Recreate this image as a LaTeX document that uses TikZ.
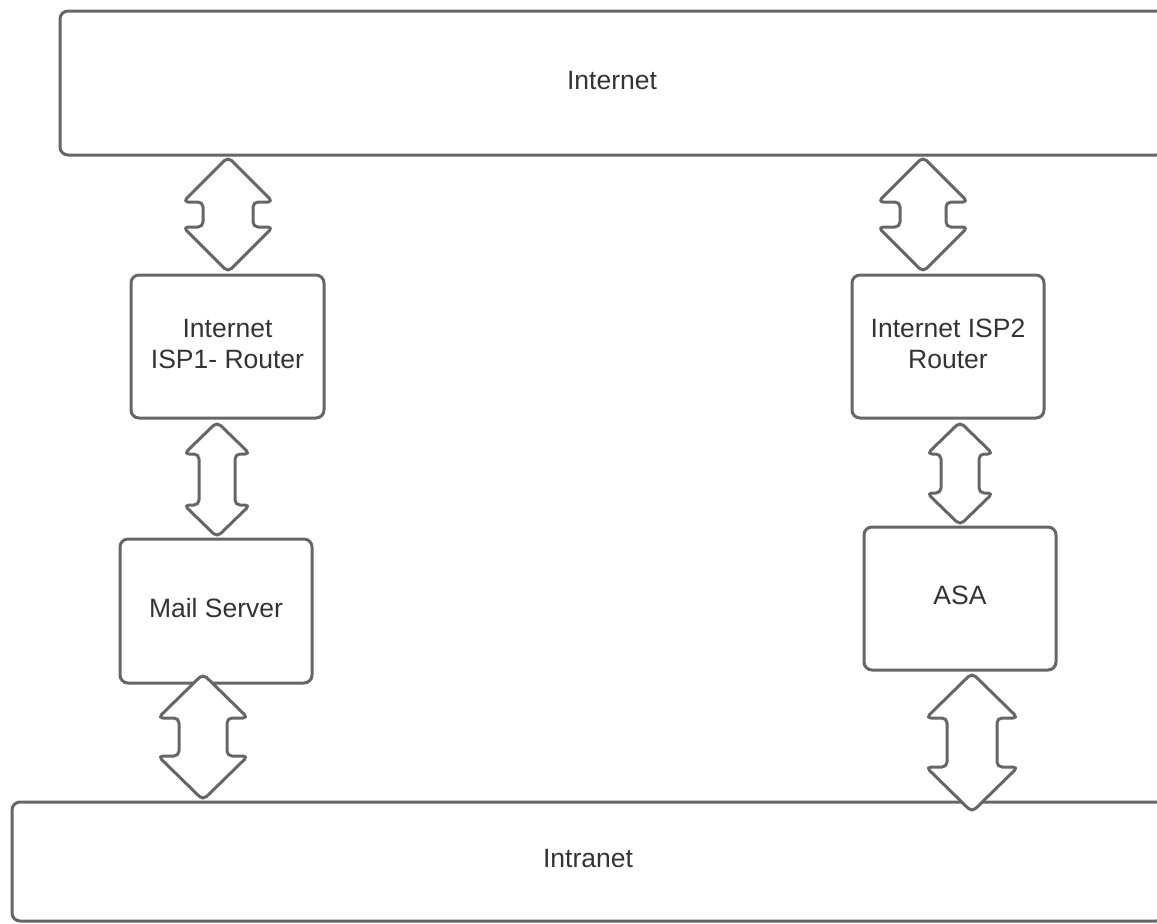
\documentclass[tikz,border=0pt]{standalone}
\usepackage{fontspec}
\setmainfont{Liberation Sans}
\definecolor{edgegray}{HTML}{666666}
\definecolor{ink}{HTML}{333333}
\tikzset{
    box/.style={draw=edgegray, line width=1.5pt, rounded corners=4pt, fill=white,
        text=ink, align=center, inner sep=0pt, text depth=3pt,
        font=\fontsize{13.25}{15.5}\selectfont},
    bigarrow/.style={draw=edgegray, line width=1.5pt, rounded corners=2.5pt,
        fill=white, line join=round}
}
% double block arrow: x, top, bottom, half width, half shaft, head length
\newcommand{\dblarrow}[6]{%
    \draw[bigarrow] ({#1+#5},{(#2+#3)/2}) -- ({#1+#5},{#3-#6}) -- ({#1+#4},{#3-#6})
        -- (#1,#3) -- ({#1-#4},{#3-#6}) -- ({#1-#5},{#3-#6}) -- ({#1-#5},{#2+#6})
        -- ({#1-#4},{#2+#6}) -- (#1,#2) -- ({#1+#4},{#2+#6}) -- ({#1+#5},{#2+#6}) -- cycle;}

\begin{document}
\begin{tikzpicture}[x=0.5pt, y=-0.5pt]
    \useasboundingbox (0,0) rectangle (1157,923);
    \clip (0,0) rectangle (1157,923);

    \node (inet) [box, minimum width=552pt, minimum height=72pt] at (612, 83) {Internet};
    \node (intra) [box, minimum width=576pt, minimum height=59.5pt] at (588, 861.5) {Intranet};

    \node (isp1) [box, minimum width=96.5pt, minimum height=71.5pt] at (227.5, 346.5) {Internet\\ISP1- Router};
    \node (mail) [box, minimum width=96pt, minimum height=72pt] at (216, 611) {Mail Server};
    \node (isp2) [box, minimum width=96pt, minimum height=71.5pt] at (948, 346.5) {Internet ISP2\\Router};
    \node (asa) [box, minimum width=96pt, minimum height=71.5pt] at (960, 598.5) {ASA};

    % left chain
    \dblarrow{228}{157}{272}{45}{25}{45}
    \dblarrow{217}{422}{537}{33}{18}{32}
    \dblarrow{203}{674}{800}{45}{24}{44}

    % right chain
    \dblarrow{923}{157}{272}{45}{23}{45}
    \dblarrow{960}{422}{525}{33}{19}{32}
    \dblarrow{972}{673}{812}{46}{25}{45}
\end{tikzpicture}
\end{document}
